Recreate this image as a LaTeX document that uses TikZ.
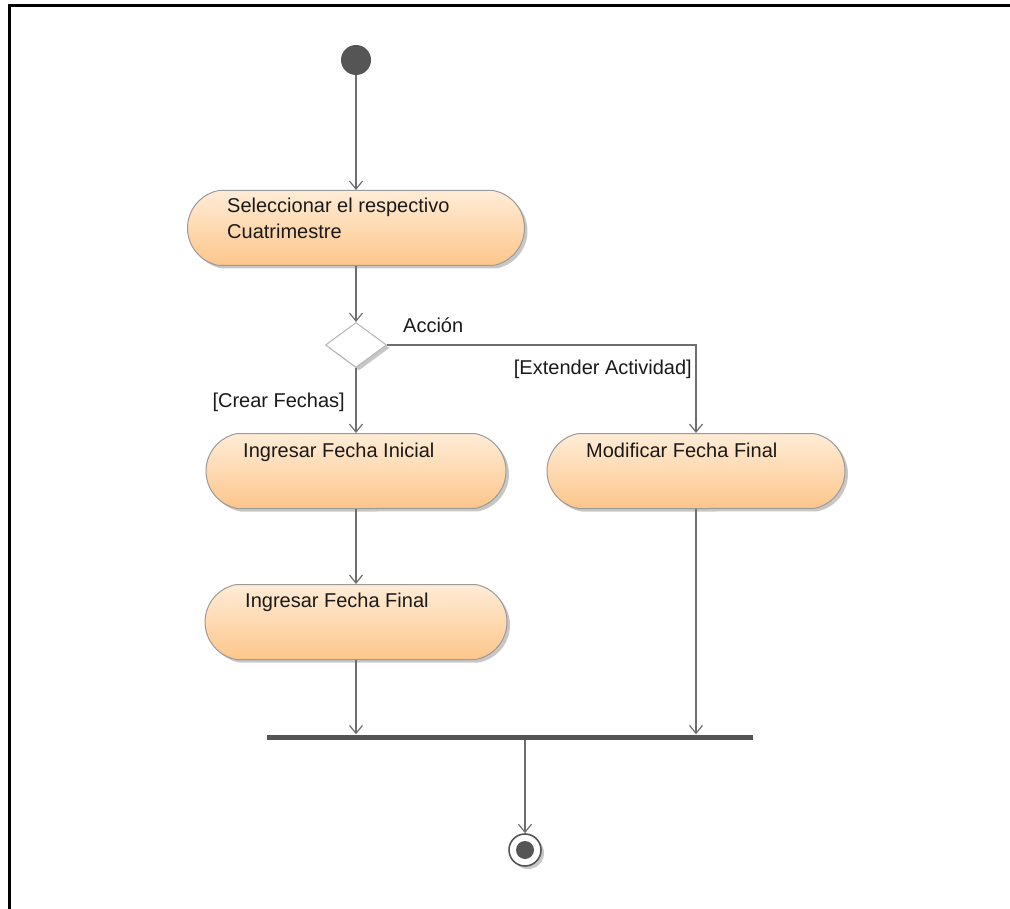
\documentclass[tikz,border=0pt]{standalone}
\usepackage{fontspec}
\setmainfont{Liberation Sans}
\usetikzlibrary{arrows.meta,shapes.misc,shapes.geometric,shadows}

\definecolor{flowline}{HTML}{6E6E6E}
\definecolor{darkfill}{HTML}{555555}
\definecolor{peachtop}{HTML}{FFECD6}
\definecolor{peachbot}{HTML}{FDC68C}
\definecolor{boxedge}{HTML}{9A9A9A}
\definecolor{diaedge}{HTML}{B4B4B4}
\definecolor{inktext}{HTML}{1A1A1A}

\tikzset{
  x=1pt, y=-1pt,
  softshadow/.style={drop shadow={shadow xshift=3pt, shadow yshift=-3pt, opacity=0.22, fill=black}},
  action/.style={rounded rectangle, rounded rectangle arc length=160,
    draw=boxedge, line width=1pt, top color=peachtop, bottom color=peachbot,
    minimum height=75pt, inner sep=0pt, softshadow},
  txt/.style={inner sep=0pt, text=inktext, font=\fontsize{20}{25.5}\selectfont, align=left},
  decision/.style={diamond, draw=diaedge, line width=1pt, fill=white,
    minimum width=61pt, minimum height=45pt, inner sep=0pt, softshadow},
  startnode/.style={circle, fill=darkfill, minimum size=30pt, inner sep=0pt},
  endring/.style={circle, draw=darkfill, line width=1.6pt, fill=white,
    minimum size=32pt, inner sep=0pt, softshadow},
  enddot/.style={circle, fill=darkfill, minimum size=18pt, inner sep=0pt},
  joinbar/.style={rectangle, fill=darkfill, minimum width=486pt, minimum height=5pt, inner sep=0pt},
  flow/.style={draw=flowline, line width=1.2pt,
    -{Straight Barb[length=8pt, width=13pt, line width=1.2pt]}},
}

\begin{document}
\begin{tikzpicture}
  \useasboundingbox (0,0) rectangle (1010,909);

  % frame
  \draw[line width=3pt] (9,909) -- (9,6) -- (1010,6);

  % nodes
  \node[startnode] (start) at (356,60) {};
  \node[action, minimum width=337pt] (sel) at (356,228) {};
  \node[decision] (dec) at (356,345) {};
  \node[action, minimum width=300pt] (ini) at (356,471) {};
  \node[action, minimum width=298pt] (mod) at (696,471) {};
  \node[action, minimum width=302pt] (ffin) at (356,622) {};
  \node[joinbar] (join) at (510,737) {};
  \node[endring] (end) at (525,850) {};
  \node[enddot] (enddot) at (end.center) {};

  % node texts (base of a two-line block is its last line)
  \node[txt, anchor=base west] (seltxt) at (227,238.5) {Seleccionar el respectivo\\Cuatrimestre};
  \node[txt, anchor=base west] (initxt) at (243,457) {Ingresar Fecha Inicial};
  \node[txt, anchor=base west] (modtxt) at (586,457) {Modificar Fecha Final};
  \node[txt, anchor=base west] (ffintxt) at (245,607) {Ingresar Fecha Final};

  % decision labels
  \node[txt, anchor=base west] (acc) at (403,333) {Acción};
  \node[txt, anchor=base east] (ext) at (692,374) {[Extender Actividad]};
  \node[txt, anchor=base east] (crear) at (345,407) {[Crear Fechas]};

  % connectors
  \draw[flow] (start) -- (sel);
  \draw[flow] (sel) -- (dec);
  \draw[flow] (dec) -- (ini);
  \draw[flow] (dec.east) -| (mod.north);
  \draw[flow] (ini) -- (ffin);
  \draw[flow] (ffin) -- (ffin.south |- join.north);
  \draw[flow] (mod) -- (mod.south |- join.north);
  \draw[flow] (join.south -| end) -- (end);
\end{tikzpicture}
\end{document}
